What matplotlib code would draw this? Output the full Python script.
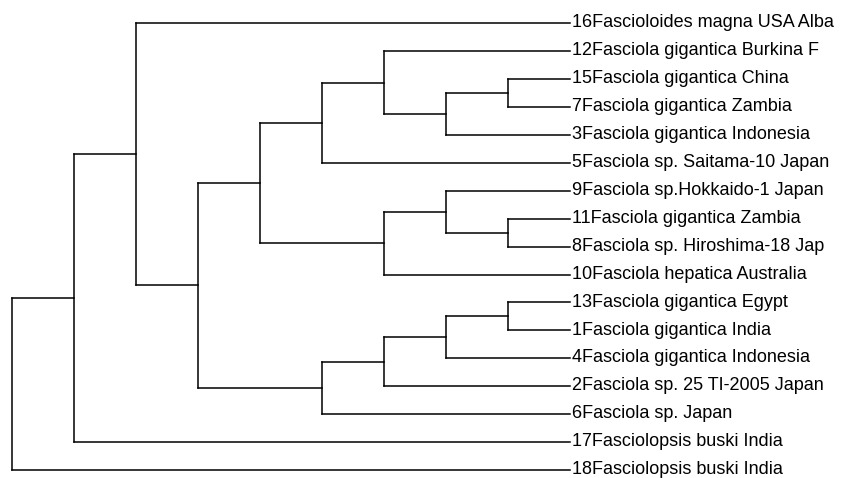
import matplotlib
matplotlib.use("Agg")
import matplotlib.pyplot as plt

# Leaf labels, top to bottom
labels = [
    "16Fascioloides magna USA Alba",
    "12Fasciola gigantica Burkina F",
    "15Fasciola gigantica China",
    "7Fasciola gigantica Zambia",
    "3Fasciola gigantica Indonesia",
    "5Fasciola sp. Saitama-10 Japan",
    "9Fasciola sp.Hokkaido-1 Japan",
    "11Fasciola gigantica Zambia",
    "8Fasciola sp. Hiroshima-18 Jap",
    "10Fasciola hepatica Australia",
    "13Fasciola gigantica Egypt",
    "1Fasciola gigantica India",
    "4Fasciola gigantica Indonesia",
    "2Fasciola sp. 25 TI-2005 Japan",
    "6Fasciola sp. Japan",
    "17Fasciolopsis buski India",
    "18Fasciolopsis buski India",
]

# Merges: (child_a, child_b) -> new cluster id len(labels)+k, with node heights
merge_a = [2, 17, 1, 19, 7, 6, 22, 20, 10, 25, 26, 27, 24, 0, 30, 31]
merge_b = [3, 4, 18, 5, 8, 21, 9, 23, 11, 12, 13, 14, 28, 29, 15, 16]
heights = [1, 2, 3, 4, 1, 2, 3, 5, 1, 2, 3, 4, 6, 7, 8, 9]

n = len(labels)
fig = plt.figure(figsize=(8.58, 4.78), dpi=100)
ax = fig.add_axes([0, 0, 1, 1])

ypos = {i: float(i) for i in range(n)}
xpos = {i: 0.0 for i in range(n)}
lw = 1.1
col = "#000000"
for k, (a, b, h) in enumerate(zip(merge_a, merge_b, heights)):
    node = n + k
    ya, yb = ypos[a], ypos[b]
    ax.plot([xpos[a], h], [ya, ya], color=col, lw=lw, solid_capstyle="projecting")
    ax.plot([xpos[b], h], [yb, yb], color=col, lw=lw, solid_capstyle="projecting")
    ax.plot([h, h], [ya, yb], color=col, lw=lw, solid_capstyle="projecting")
    ypos[node] = (ya + yb) / 2
    xpos[node] = h

for i, lab in enumerate(labels):
    ax.annotate(lab, xy=(0, i), xytext=(1.5, -3.0), textcoords="offset points",
                ha="left", va="baseline", fontsize=13,
                family=["Liberation Sans", "DejaVu Sans"], color="#000000")

px = (570 - 11.7) / 9.0
ax.set_xlim(570 / px, (570 - 858) / px)
sp = (470 - 23.3) / 16.0
ax.set_ylim((478 - 23.3) / sp, -23.3 / sp)
ax.axis("off")
fig.savefig("out.png", dpi=100)
